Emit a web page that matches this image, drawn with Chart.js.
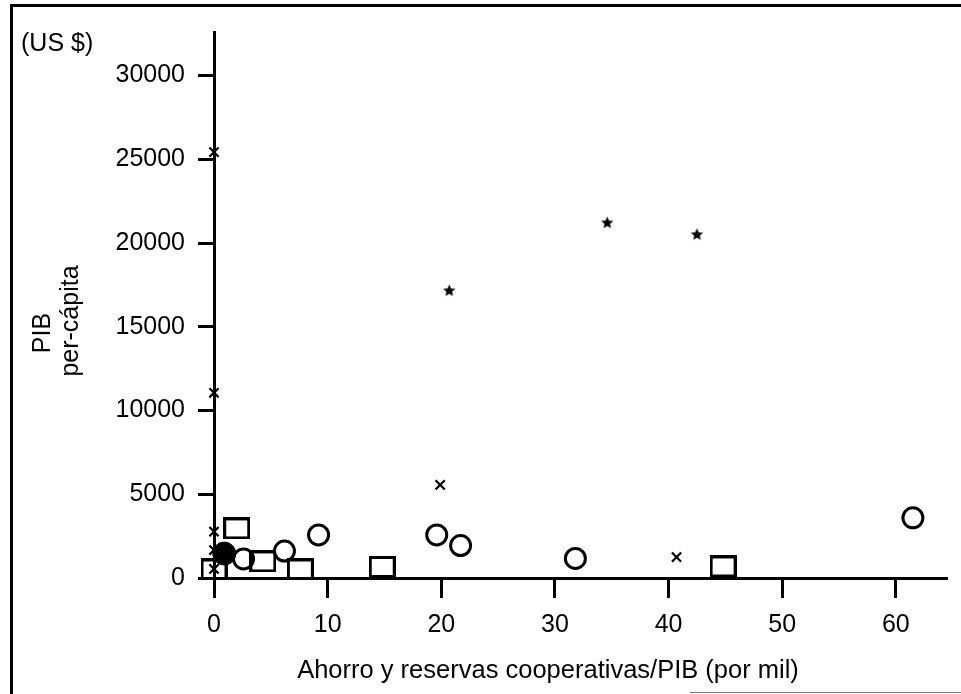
<!DOCTYPE html>
<html>
<head>
<meta charset="utf-8">
<script src="https://cdn.jsdelivr.net/npm/chart.js@4.4.0/dist/chart.umd.min.js"></script>
<style>
html,body{margin:0;padding:0;background:#fff;width:961px;height:694px;overflow:hidden}
#wrap{position:relative;width:961px;height:694px}
#c{position:absolute;left:0;top:0}
.frame-top{position:absolute;left:10px;top:4px;width:951px;height:3px;background:#000}
.frame-left{position:absolute;left:10px;top:4px;width:3px;height:690px;background:#000}
.frame-bottom{position:absolute;left:690px;top:692px;width:271px;height:1px;background:#777}
</style>
</head>
<body>
<div id="wrap">
  <canvas id="c" width="961" height="694"></canvas>
  <div class="frame-top"></div>
  <div class="frame-left"></div>
  <div class="frame-bottom"></div>
</div>
<script>
// ---- Text ----
const unitLabel = '(US $)';
const yTitleLines = ['PIB', 'per-cápita'];
const xTitle = 'Ahorro y reservas cooperativas/PIB (por mil)';

// ---- Tick values ----
const xTickValues = [0, 10, 20, 30, 40, 50, 60];
const yTickValues = [0, 5000, 10000, 15000, 20000, 25000, 30000];

// ---- Series (x = ahorro/PIB por mil, y = PIB per cápita US$) ----
const filledCircleX = [0.9];
const filledCircleY = [1460];

const openCircleX = [2.6, 6.2, 9.2, 19.6, 21.7, 31.8, 61.5];
const openCircleY = [1140, 1610, 2570, 2570, 1940, 1170, 3590];

const squareX = [2.0, 0.0, 4.3, 7.6, 14.8, 44.8];
const squareY = [2960, 510, 990, 510, 660, 690];

const crossX = [0, 0, 0, 0, 0, 19.9, 40.7];
const crossY = [25430, 11060, 2770, 1670, 540, 5560, 1250];

const starX = [20.7, 34.6, 42.5];
const starY = [17150, 21200, 20500];

function pts(xs, ys) { return xs.map((x, i) => ({ x: x, y: ys[i] })); }

function makeStar(outer, inner) {
  const s = Math.ceil(outer * 2) + 2;
  const c = document.createElement('canvas');
  c.width = s; c.height = s;
  const g = c.getContext('2d');
  g.fillStyle = '#000';
  g.beginPath();
  for (let i = 0; i < 10; i++) {
    const r = i % 2 ? inner : outer;
    const a = -Math.PI / 2 + i * Math.PI / 5;
    g.lineTo(s / 2 + r * Math.cos(a), s / 2 + r * Math.sin(a));
  }
  g.closePath();
  g.fill();
  return c;
}
function makeBox(w, h, lw) {
  const c = document.createElement('canvas');
  c.width = w; c.height = h;
  const g = c.getContext('2d');
  g.strokeStyle = '#000';
  g.lineWidth = lw;
  g.strokeRect(lw / 2, lw / 2, w - lw, h - lw);
  return c;
}

const FONT = "'Liberation Sans', Arial, Helvetica, sans-serif";
Chart.defaults.font.family = FONT;
Chart.defaults.font.size = 25;
Chart.defaults.color = '#000';

const textPlugin = {
  id: 'freeText',
  afterDraw(chart) {
    const ctx = chart.ctx;
    ctx.save();
    ctx.fillStyle = '#000';
    ctx.font = '25px ' + FONT;
    ctx.textBaseline = 'middle';
    ctx.textAlign = 'left';
    ctx.fillText(unitLabel, 21, 44);
    ctx.textAlign = 'center';
    const yPos = [[43, 333], [71, 321]];
    yTitleLines.forEach((t, i) => {
      ctx.save();
      ctx.translate(yPos[i][0], yPos[i][1]);
      ctx.rotate(-Math.PI / 2);
      ctx.fillText(t, 0, 0);
      ctx.restore();
    });
    ctx.font = '25.5px ' + FONT;
    ctx.fillText(xTitle, 548, 671);
    ctx.restore();
  }
};

const common = { clip: false, showLine: false };

new Chart(document.getElementById('c'), {
  type: 'scatter',
  data: {
    datasets: [
      Object.assign({ label: 'Cuadrados', data: pts(squareX, squareY),
        pointStyle: makeBox(27, 22, 3), pointRadius: 12, borderColor: '#000', backgroundColor: 'transparent' }, common),
      Object.assign({ label: 'Círculos', data: pts(openCircleX, openCircleY),
        pointStyle: 'circle', pointRadius: 10, borderWidth: 3, borderColor: '#000', backgroundColor: 'transparent' }, common),
      Object.assign({ label: 'Círculo lleno', data: pts(filledCircleX, filledCircleY),
        pointStyle: 'circle', pointRadius: 11.5, borderWidth: 1, borderColor: '#000', backgroundColor: '#000' }, common),
      Object.assign({ label: 'Cruces', data: pts(crossX, crossY),
        pointStyle: 'crossRot', pointRadius: 6.5, borderWidth: 2.2, borderColor: '#000', backgroundColor: '#000' }, common),
      Object.assign({ label: 'Estrellas', data: pts(starX, starY),
        pointStyle: makeStar(6.5, 2.9), pointRadius: 7, borderColor: '#000', backgroundColor: '#000' }, common)
    ]
  },
  options: {
    responsive: false,
    animation: false,
    events: [],
    layout: { padding: { top: 32, right: 14, left: 0, bottom: 0 } },
    plugins: { legend: { display: false }, tooltip: { enabled: false }, title: { display: false } },
    scales: {
      x: {
        type: 'linear', position: 'bottom', min: 0, max: 64.5,
        afterBuildTicks: s => { s.ticks = xTickValues.map(v => ({ value: v })); },
        afterFit: s => { s.height = 116; },
        ticks: { padding: 12, color: '#000', font: { size: 25 }, callback: v => String(v), maxRotation: 0 },
        grid: { display: true, drawOnChartArea: false, drawTicks: true, tickLength: 20, tickWidth: 3, tickColor: '#000' },
        border: { display: true, color: '#000', width: 3 }
      },
      y: {
        type: 'linear', position: 'left', min: 0, max: 32600,
        afterBuildTicks: s => { s.ticks = yTickValues.map(v => ({ value: v })); },
        afterFit: s => { s.width = 214; },
        ticks: { padding: 13, color: '#000', font: { size: 25 }, callback: v => String(v) },
        grid: { display: true, drawOnChartArea: false, drawTicks: true, tickLength: 16, tickWidth: 3, tickColor: '#000' },
        border: { display: true, color: '#000', width: 3 }
      }
    }
  },
  plugins: [textPlugin]
});
</script>
</body>
</html>
